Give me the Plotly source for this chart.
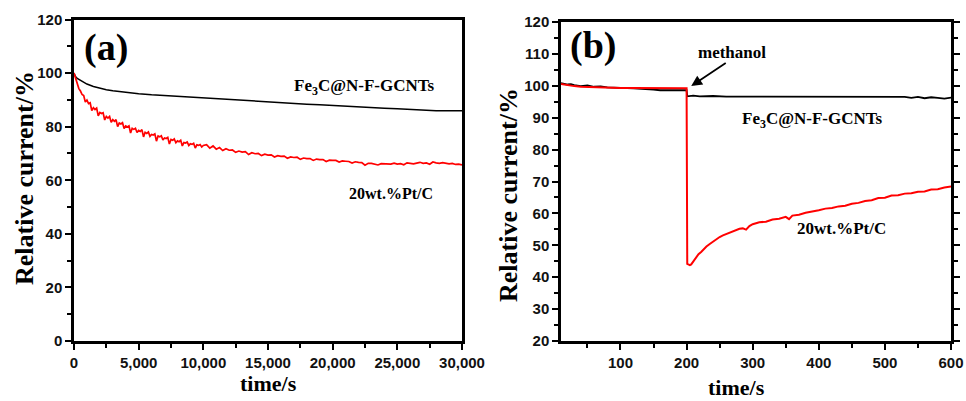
import plotly.graph_objects as go

# ---------------- data: panel (a) ----------------
a_red_t = [0, 125, 250, 375, 500, 625, 750, 875, 1000, 1125, 1250, 1375, 1500, 1625, 1750, 1875,
           2000, 2125, 2250, 2375, 2500, 2625, 2750, 2875, 3000, 3125, 3250, 3375, 3500, 3625, 3750, 3875,
           4000, 4125, 4250, 4375, 4500, 4625, 4750, 4875, 5000, 5125, 5250, 5375, 5500, 5625, 5750, 5875,
           6000, 6125, 6250, 6375, 6500, 6625, 6750, 6875, 7000, 7125, 7250, 7375, 7500, 7625, 7750, 7875,
           8000, 8125, 8250, 8375, 8500, 8625, 8750, 8875, 9000, 9125, 9250, 9375, 9500, 9625, 9750, 9875,
           10000, 10250, 10500, 10750, 11000, 11250, 11500, 11750,
           12000, 12250, 12500, 12750, 13000, 13250, 13500, 13750, 14000, 14250, 14500, 14750, 15000, 15250, 15500, 15750,
           16000, 16250, 16500, 16750, 17000, 17250, 17500, 17750, 18000, 18250, 18500, 18750, 19000, 19250, 19500, 19750,
           20000, 20250, 20500, 20750, 21000, 21250, 21500, 21750, 22000, 22250, 22500, 22750, 23000, 23250, 23500, 23750,
           24000, 24250, 24500, 24750, 25000, 25250, 25500, 25750, 26000, 26250, 26500, 26750, 27000, 27250, 27500, 27750,
           28000, 28250, 28500, 28750, 29000, 29250, 29500, 29750, 30000]
a_red_v = [100.0, 98.0, 96.5, 94.2, 93.3, 92.0, 91.6, 89.2, 89.9, 88.6, 88.9, 86.0, 87.1, 86.4, 86.9, 84.0,
           85.3, 84.9, 85.2, 82.5, 83.8, 83.2, 83.8, 81.6, 82.6, 82.0, 82.6, 80.0, 81.4, 81.0, 81.5, 79.3,
           80.3, 79.9, 80.3, 77.6, 79.4, 79.0, 79.4, 77.8, 78.6, 78.2, 78.9, 76.2, 77.9, 77.5, 78.0, 76.4,
           77.1, 76.9, 77.3, 74.6, 76.5, 76.2, 76.6, 75.0, 75.8, 75.6, 76.0, 73.5, 75.2, 74.9, 75.4, 74.0,
           74.7, 74.4, 74.9, 72.8, 74.1, 73.9, 74.3, 73.0, 73.6, 73.4, 73.8, 72.0, 73.2, 73.0, 73.3, 72.4,
           73.0, 73.3, 72.0, 72.8, 71.6, 72.2, 71.1, 71.8,
           71.2, 71.3, 70.4, 70.9, 70.5, 70.7, 69.6, 70.3, 69.9, 70.0, 69.2, 69.7, 69.4, 69.5, 68.7, 69.2,
           68.9, 69.0, 68.2, 68.7, 68.5, 68.6, 67.8, 68.3, 68.1, 68.1, 67.4, 67.9, 67.7, 67.7, 67.0, 67.5,
           67.4, 67.4, 66.8, 67.2, 67.1, 67.0, 66.4, 66.9, 66.7, 66.6, 65.6, 66.3, 66.3, 66.0, 65.7, 66.2,
           66.1, 65.9, 66.0, 66.4, 66.0, 66.2, 65.8, 66.5, 66.3, 66.1, 66.4, 66.7, 66.3, 66.5, 66.0, 66.8,
           66.5, 66.3, 66.6, 66.4, 66.1, 66.3, 65.9, 66.0, 65.7]

a_blk_t = [0, 100, 250, 500, 750, 1000, 1500, 2000, 2500, 3000, 4000, 5000, 6000, 7000, 8000, 9000,
           10000, 11000, 12000, 13000, 14000, 15000, 16000, 17000, 18000, 19000, 20000, 21000, 22000,
           23000, 24000, 25000, 26000, 27000, 28000, 29000, 30000]
a_blk_v = [100.0, 98.8, 98.0, 97.3, 96.5, 95.9, 95.0, 94.3, 93.8, 93.4, 92.8, 92.3, 91.9, 91.6, 91.2, 90.9,
           90.6, 90.3, 90.0, 89.7, 89.5, 89.2, 88.9, 88.7, 88.4, 88.2, 87.9, 87.7, 87.4,
           87.2, 86.9, 86.7, 86.4, 86.1, 85.9, 85.9, 85.9]

# ---------------- data: panel (b) ----------------
b_red_t = [10, 15, 20, 30, 40, 50, 60, 70, 80, 90, 100, 120, 140, 160, 180, 199, 200, 201, 203, 205, 207, 209,
           212, 215, 218, 222, 226, 230, 235, 240, 245, 250, 255, 260, 265, 270, 275, 280, 285, 290, 295,
           300, 310, 320, 330, 340, 350, 355, 360, 370, 380, 390, 400, 410, 420, 430, 440, 450, 460, 470,
           480, 490, 500, 510, 520, 530, 540, 550, 560, 570, 580, 590, 600]
b_red_v = [100.6, 100.4, 100.2, 99.9, 99.7, 99.6, 99.5, 99.5, 99.4, 99.4, 99.3, 99.3, 99.3, 99.2, 99.2, 99.2, 99.2,
           44.2, 43.9, 43.8, 44.0, 44.6,
           45.5, 46.3, 47.2, 47.9, 48.8, 49.6, 50.4, 51.2, 52.0, 52.6, 53.1, 53.5, 54.0, 54.3, 54.8, 55.2, 55.3, 54.9, 56.0,
           56.6, 57.2, 57.4, 58.1, 58.3, 58.9, 58.2, 59.3, 59.6, 60.2, 60.5, 61.0, 61.5, 61.7, 62.2, 62.4, 63.0, 63.3, 63.9,
           64.1, 64.8, 64.9, 65.6, 65.7, 66.2, 66.3, 66.8, 66.9, 67.5, 67.6, 68.1, 68.4]

b_blk_t = [10, 15, 20, 25, 30, 40, 50, 60, 70, 80, 100, 120, 150, 160, 180, 199, 200, 201, 210, 220, 240, 260,
           300, 350, 400, 450, 500, 530, 540, 550, 560, 570, 580, 590, 600]
b_blk_v = [100.8, 100.6, 100.4, 100.5, 100.2, 99.9, 100.1, 99.7, 99.8, 99.5, 99.4, 99.2, 98.8, 98.6, 98.6, 98.6, 98.6,
           96.7, 96.9, 96.7, 96.8, 96.6, 96.6, 96.6, 96.6, 96.6, 96.6, 96.5, 96.2, 96.5, 96.1, 96.4, 96.2, 96.0, 96.3]

# tick values / labels
a_xticks = [0, 5000, 10000, 15000, 20000, 25000, 30000]
a_xlabels = ["0", "5,000", "10,000", "15,000", "20,000", "25,000", "30,000"]
a_yticks = [0, 20, 40, 60, 80, 100, 120]
a_ylabels = ["0", "20", "40", "60", "80", "100", "120"]
b_xticks = [100, 200, 300, 400, 500, 600]
b_xlabels = ["100", "200", "300", "400", "500", "600"]
b_yticks = [20, 30, 40, 50, 60, 70, 80, 90, 100, 110, 120]
b_ylabels = ["20", "30", "40", "50", "60", "70", "80", "90", "100", "110", "120"]

series_name_fe = "Fe<sub>3</sub>C@N-F-GCNTs"
series_name_pt = "20wt.%Pt/C"

W, H = 966, 401
SERIF = "Liberation Serif"
SANS = "Arial, Liberation Sans"
TICKCOL = "#111111"


def px(x):
    return x / W


def py(y):
    return 1 - y / H


def bold(labels):
    return ["<b>" + s + "</b>" for s in labels]


fig = go.Figure()
fig.add_trace(go.Scatter(x=a_blk_t, y=a_blk_v, mode="lines", line=dict(color="black", width=1.5),
                         xaxis="x", yaxis="y", showlegend=False))
fig.add_trace(go.Scatter(x=a_red_t, y=a_red_v, mode="lines", line=dict(color="#ff0000", width=1.7),
                         xaxis="x", yaxis="y", showlegend=False))
fig.add_trace(go.Scatter(x=b_blk_t, y=b_blk_v, mode="lines", line=dict(color="black", width=1.8),
                         xaxis="x2", yaxis="y2", showlegend=False))
fig.add_trace(go.Scatter(x=b_red_t, y=b_red_v, mode="lines", line=dict(color="#ff0000", width=2),
                         xaxis="x2", yaxis="y2", showlegend=False))

common = dict(showline=True, linewidth=2.5, linecolor="black", ticks="outside", ticklen=6, tickwidth=2,
              tickcolor="black", showgrid=False, zeroline=False, automargin=False,
              tickfont=dict(family=SANS, size=15, color=TICKCOL, weight="bold"))

fig.update_layout(
    width=W, height=H, margin=dict(l=0, r=0, t=0, b=0),
    paper_bgcolor="white", plot_bgcolor="white",
    xaxis=dict(domain=[px(74), px(462)], range=[0, 30000], tickvals=a_xticks, ticktext=bold(a_xlabels),
               mirror=True, anchor="y",
               minor=dict(ticks="outside", dtick=2500, tick0=0, ticklen=4, tickwidth=1.5, tickcolor="black"),
               **common),
    yaxis=dict(domain=[py(341), py(19.5)], range=[0, 120], tickvals=a_yticks, ticktext=bold(a_ylabels),
               mirror=True, anchor="x",
               minor=dict(ticks="outside", dtick=10, tick0=0, ticklen=4, tickwidth=1.5, tickcolor="black"),
               **common),
    xaxis2=dict(domain=[px(561), px(951)], range=[10, 600], tickvals=b_xticks, ticktext=bold(b_xlabels),
                mirror=True, anchor="y2",
                minor=dict(ticks="outside", dtick=50, tick0=0, ticklen=4, tickwidth=1.5, tickcolor="black"),
                **common),
    yaxis2=dict(domain=[py(341), py(22)], range=[20, 120], tickvals=b_yticks, ticktext=bold(b_ylabels),
                mirror="allticks", anchor="x2",
                minor=dict(ticks="outside", dtick=5, tick0=0, ticklen=4, tickwidth=1.5, tickcolor="black"),
                **common),
)


def serif_b(s):
    return dict(family=SERIF, size=s, color="black", weight=700)


annots = [
    dict(text="<b>(a)</b>", x=px(106), y=py(47), font=serif_b(38)),
    dict(text="<b>(b)</b>", x=px(593), y=py(45), font=serif_b(38)),
    dict(text="<b>" + series_name_fe + "</b>", x=px(364), y=py(87), font=serif_b(17)),
    dict(text="<b>" + series_name_pt + "</b>", x=px(391), y=py(193), font=serif_b(16)),
    dict(text="<b>" + series_name_fe + "</b>", x=px(812), y=py(120), font=serif_b(17)),
    dict(text="<b>" + series_name_pt + "</b>", x=px(841), y=py(229), font=serif_b(17)),
    dict(text="<b>methanol</b>", x=px(732), y=py(52), font=serif_b(17)),
    dict(text="<b>Relative current/%</b>", x=px(24), y=py(178), font=serif_b(26), textangle=-90),
    dict(text="<b>Relative current/%</b>", x=px(508), y=py(195), font=serif_b(26), textangle=-90),
    dict(text="<b>time/s</b>", x=px(268), y=py(383), font=serif_b(22)),
    dict(text="<b>time/s</b>", x=px(736), y=py(387), font=serif_b(22)),
]
for a in annots:
    fig.add_annotation(xref="paper", yref="paper", showarrow=False, xanchor="center", yanchor="middle", **a)

# methanol arrow
fig.add_annotation(xref="x2", yref="y2", x=207, y=99.9, ax=36, ay=-24, showarrow=True, arrowhead=2,
                   arrowsize=1.2, arrowwidth=1.8, arrowcolor="black", text="")

fig.write_html("out.html")
